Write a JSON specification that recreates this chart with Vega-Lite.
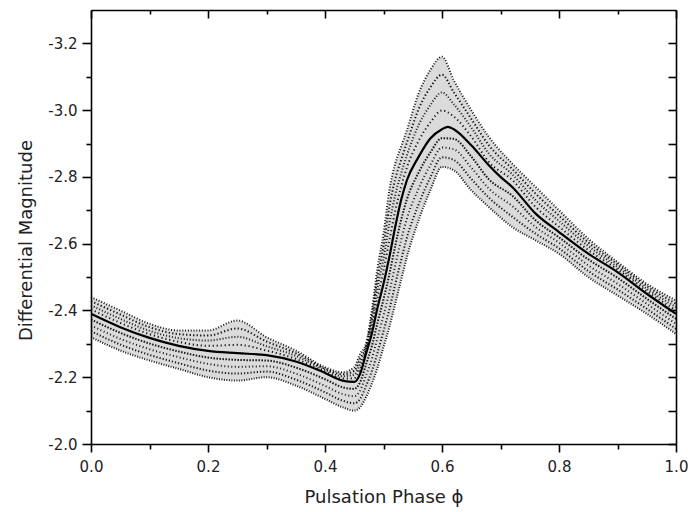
{
  "$schema": "https://vega.github.io/schema/vega-lite/v6.json",
  "width": 585,
  "height": 434,
  "autosize": "none",
  "padding": {"left": 91, "top": 10, "right": 12, "bottom": 68},
  "background": "white",
  "config": {
    "view": {"stroke": null},
    "font": "DejaVu Sans",
    "axis": {"grid": false, "domainColor": "#000", "tickColor": "#000", "domainWidth": 1.6, "tickWidth": 1.6, "labelColor": "#222", "titleColor": "#222", "titleFontWeight": "normal"}
  },
  "data": {
    "values": [
      {"p": 0.00, "M": -2.39, "U": -2.44, "U1": -2.428, "U2": -2.415, "U3": -2.403, "L3": -2.373, "L2": -2.355, "L1": -2.338, "L": -2.32},
      {"p": 0.05, "M": -2.35, "U": -2.40, "U1": -2.388, "U2": -2.375, "U3": -2.363, "L3": -2.333, "L2": -2.315, "L1": -2.298, "L": -2.28},
      {"p": 0.10, "M": -2.318, "U": -2.36, "U1": -2.350, "U2": -2.339, "U3": -2.329, "L3": -2.301, "L2": -2.284, "L1": -2.267, "L": -2.25},
      {"p": 0.15, "M": -2.294, "U": -2.34, "U1": -2.329, "U2": -2.317, "U3": -2.306, "L3": -2.277, "L2": -2.260, "L1": -2.242, "L": -2.225},
      {"p": 0.20, "M": -2.279, "U": -2.34, "U1": -2.325, "U2": -2.310, "U3": -2.294, "L3": -2.259, "L2": -2.240, "L1": -2.220, "L": -2.20},
      {"p": 0.25, "M": -2.272, "U": -2.37, "U1": -2.346, "U2": -2.321, "U3": -2.297, "L3": -2.252, "L2": -2.231, "L1": -2.211, "L": -2.19},
      {"p": 0.30, "M": -2.266, "U": -2.32, "U1": -2.307, "U2": -2.293, "U3": -2.280, "L3": -2.250, "L2": -2.233, "L1": -2.217, "L": -2.20},
      {"p": 0.35, "M": -2.247, "U": -2.28, "U1": -2.272, "U2": -2.264, "U3": -2.255, "L3": -2.229, "L2": -2.211, "L1": -2.193, "L": -2.175},
      {"p": 0.40, "M": -2.213, "U": -2.23, "U1": -2.226, "U2": -2.222, "U3": -2.217, "L3": -2.194, "L2": -2.174, "L1": -2.155, "L": -2.135},
      {"p": 0.43, "M": -2.19, "U": -2.215, "U1": -2.209, "U2": -2.203, "U3": -2.196, "L3": -2.170, "L2": -2.150, "L1": -2.130, "L": -2.11},
      {"p": 0.45, "M": -2.186, "U": -2.23, "U1": -2.219, "U2": -2.208, "U3": -2.197, "L3": -2.165, "L2": -2.143, "L1": -2.122, "L": -2.10},
      {"p": 0.46, "M": -2.21, "U": -2.27, "U1": -2.255, "U2": -2.240, "U3": -2.225, "L3": -2.185, "L2": -2.160, "L1": -2.135, "L": -2.11},
      {"p": 0.47, "M": -2.27, "U": -2.30, "U1": -2.293, "U2": -2.285, "U3": -2.278, "L3": -2.238, "L2": -2.205, "L1": -2.173, "L": -2.14},
      {"p": 0.48, "M": -2.33, "U": -2.40, "U1": -2.383, "U2": -2.365, "U3": -2.348, "L3": -2.293, "L2": -2.255, "L1": -2.218, "L": -2.18},
      {"p": 0.49, "M": -2.41, "U": -2.53, "U1": -2.500, "U2": -2.470, "U3": -2.440, "L3": -2.365, "L2": -2.320, "L1": -2.275, "L": -2.23},
      {"p": 0.50, "M": -2.48, "U": -2.63, "U1": -2.593, "U2": -2.555, "U3": -2.518, "L3": -2.433, "L2": -2.385, "L1": -2.338, "L": -2.29},
      {"p": 0.51, "M": -2.56, "U": -2.76, "U1": -2.710, "U2": -2.660, "U3": -2.610, "L3": -2.508, "L2": -2.455, "L1": -2.403, "L": -2.35},
      {"p": 0.52, "M": -2.65, "U": -2.84, "U1": -2.793, "U2": -2.745, "U3": -2.698, "L3": -2.593, "L2": -2.535, "L1": -2.478, "L": -2.42},
      {"p": 0.53, "M": -2.73, "U": -2.89, "U1": -2.850, "U2": -2.810, "U3": -2.770, "L3": -2.670, "L2": -2.610, "L1": -2.550, "L": -2.49},
      {"p": 0.54, "M": -2.79, "U": -2.94, "U1": -2.903, "U2": -2.865, "U3": -2.828, "L3": -2.733, "L2": -2.675, "L1": -2.618, "L": -2.56},
      {"p": 0.56, "M": -2.86, "U": -3.05, "U1": -3.003, "U2": -2.955, "U3": -2.908, "L3": -2.813, "L2": -2.765, "L1": -2.718, "L": -2.67},
      {"p": 0.58, "M": -2.915, "U": -3.12, "U1": -3.068, "U2": -3.015, "U3": -2.963, "L3": -2.873, "L2": -2.835, "L1": -2.798, "L": -2.76},
      {"p": 0.60, "M": -2.943, "U": -3.16, "U1": -3.106, "U2": -3.053, "U3": -2.999, "L3": -2.916, "L2": -2.888, "L1": -2.859, "L": -2.83},
      {"p": 0.61, "M": -2.95},
      {"p": 0.62, "M": -2.943, "U": -3.09, "U1": -3.054, "U2": -3.018, "U3": -2.981, "L3": -2.914, "L2": -2.883, "L1": -2.851, "L": -2.82},
      {"p": 0.65, "M": -2.895, "U": -3.00, "U1": -2.974, "U2": -2.948, "U3": -2.921, "L3": -2.861, "L2": -2.828, "L1": -2.794, "L": -2.76},
      {"p": 0.68, "M": -2.835, "U": -2.92, "U1": -2.895, "U2": -2.870, "U3": -2.845, "L3": -2.793, "L2": -2.765, "L1": -2.738, "L": -2.71},
      {"p": 0.70, "M": -2.80},
      {"p": 0.72, "M": -2.77, "U": -2.84, "U1": -2.824, "U2": -2.808, "U3": -2.791, "L3": -2.744, "L2": -2.713, "L1": -2.681, "L": -2.65},
      {"p": 0.76, "M": -2.69, "U": -2.77, "U1": -2.750, "U2": -2.730, "U3": -2.710, "L3": -2.670, "L2": -2.650, "L1": -2.630, "L": -2.61},
      {"p": 0.80, "M": -2.635, "U": -2.70, "U1": -2.684, "U2": -2.668, "U3": -2.651, "L3": -2.619, "L2": -2.603, "L1": -2.586, "L": -2.57},
      {"p": 0.85, "M": -2.57, "U": -2.615, "U1": -2.604, "U2": -2.593, "U3": -2.581, "L3": -2.553, "L2": -2.535, "L1": -2.518, "L": -2.50},
      {"p": 0.90, "M": -2.515, "U": -2.545, "U1": -2.538, "U2": -2.530, "U3": -2.523, "L3": -2.498, "L2": -2.480, "L1": -2.463, "L": -2.445},
      {"p": 0.95, "M": -2.45, "U": -2.48, "U1": -2.473, "U2": -2.465, "U3": -2.458, "L3": -2.435, "L2": -2.420, "L1": -2.405, "L": -2.39},
      {"p": 1.00, "M": -2.39, "U": -2.43, "U1": -2.420, "U2": -2.410, "U3": -2.400, "L3": -2.375, "L2": -2.360, "L1": -2.345, "L": -2.33}
    ]
  },
  "layer": [
    {
      "transform": [{"filter": "isValid(datum.U)"}],
      "mark": {"type": "area", "color": "#000", "opacity": 0.14, "interpolate": "monotone"},
      "encoding": {
        "x": {
          "field": "p", "type": "quantitative",
          "scale": {"domain": [0, 1], "nice": false, "zero": false},
          "axis": {
            "orient": "bottom",
            "values": [0, 0.1, 0.2, 0.3, 0.4, 0.5, 0.6, 0.7, 0.8, 0.9, 1.0],
            "labelExpr": "round(datum.value*10)%2==0 ? replace(format(datum.value,'.1f'),'\u2212','-') : ''",
            "tickSize": {"condition": {"test": "round(datum.value*10)%2==0", "value": 8}, "value": 5},
            "labelFontSize": 15, "labelPadding": 7, "labelFlush": false,
            "title": "Pulsation Phase ϕ", "titleFontSize": 18, "titlePadding": 14
          }
        },
        "y": {
          "field": "U", "type": "quantitative",
          "scale": {"domain": [-3.3, -2.0], "reverse": true, "nice": false, "zero": false},
          "axis": {
            "orient": "left",
            "values": [-3.2, -3.1, -3.0, -2.9, -2.8, -2.7, -2.6, -2.5, -2.4, -2.3, -2.2, -2.1, -2.0],
            "labelExpr": "round(datum.value*10)%2==0 ? replace(format(datum.value,'.1f'),'\u2212','-') : ''",
            "tickSize": {"condition": {"test": "round(datum.value*10)%2==0", "value": 9}, "value": 5},
            "labelFontSize": 15, "labelPadding": 5, "labelFlush": false,
            "title": "Differential Magnitude", "titleFontSize": 18, "titlePadding": 12, "titleY": 230
          }
        },
        "y2": {"field": "L"}
      }
    },
    {
      "transform": [{"filter": "isValid(datum.U)"}, {"fold": ["U", "U1", "U2", "U3", "L3", "L2", "L1", "L"], "as": ["s", "m"]}],
      "mark": {"type": "line", "color": "#000", "strokeWidth": 2, "opacity": 0.9, "interpolate": "monotone"},
      "encoding": {
        "x": {"field": "p", "type": "quantitative", "axis": null},
        "y": {"field": "m", "type": "quantitative", "axis": null},
        "detail": {"field": "s"},
        "strokeDash": {"field": "s", "type": "nominal", "legend": null,
          "scale": {"range": [[1, 1.5], [1.2, 2], [1, 2.5], [1.5, 1.5], [1, 1.8], [1.3, 2.2], [1, 2], [1.2, 2.8]]}}
      }
    },
    {
      "mark": {"type": "line", "color": "#000", "strokeWidth": 2.2, "interpolate": "monotone"},
      "encoding": {
        "x": {"field": "p", "type": "quantitative",
          "axis": {"orient": "top", "labels": false, "title": null,
            "values": [0, 0.1, 0.2, 0.3, 0.4, 0.5, 0.6, 0.7, 0.8, 0.9, 1.0],
            "tickSize": {"condition": {"test": "round(datum.value*10)%2==0", "value": -8}, "value": -4}}},
        "y": {"field": "M", "type": "quantitative",
          "axis": {"orient": "right", "labels": false, "title": null,
            "values": [-3.2, -3.1, -3.0, -2.9, -2.8, -2.7, -2.6, -2.5, -2.4, -2.3, -2.2, -2.1, -2.0],
            "tickSize": -8}}
      }
    }
  ],
  "resolve": {"axis": {"x": "independent", "y": "independent"}}
}
